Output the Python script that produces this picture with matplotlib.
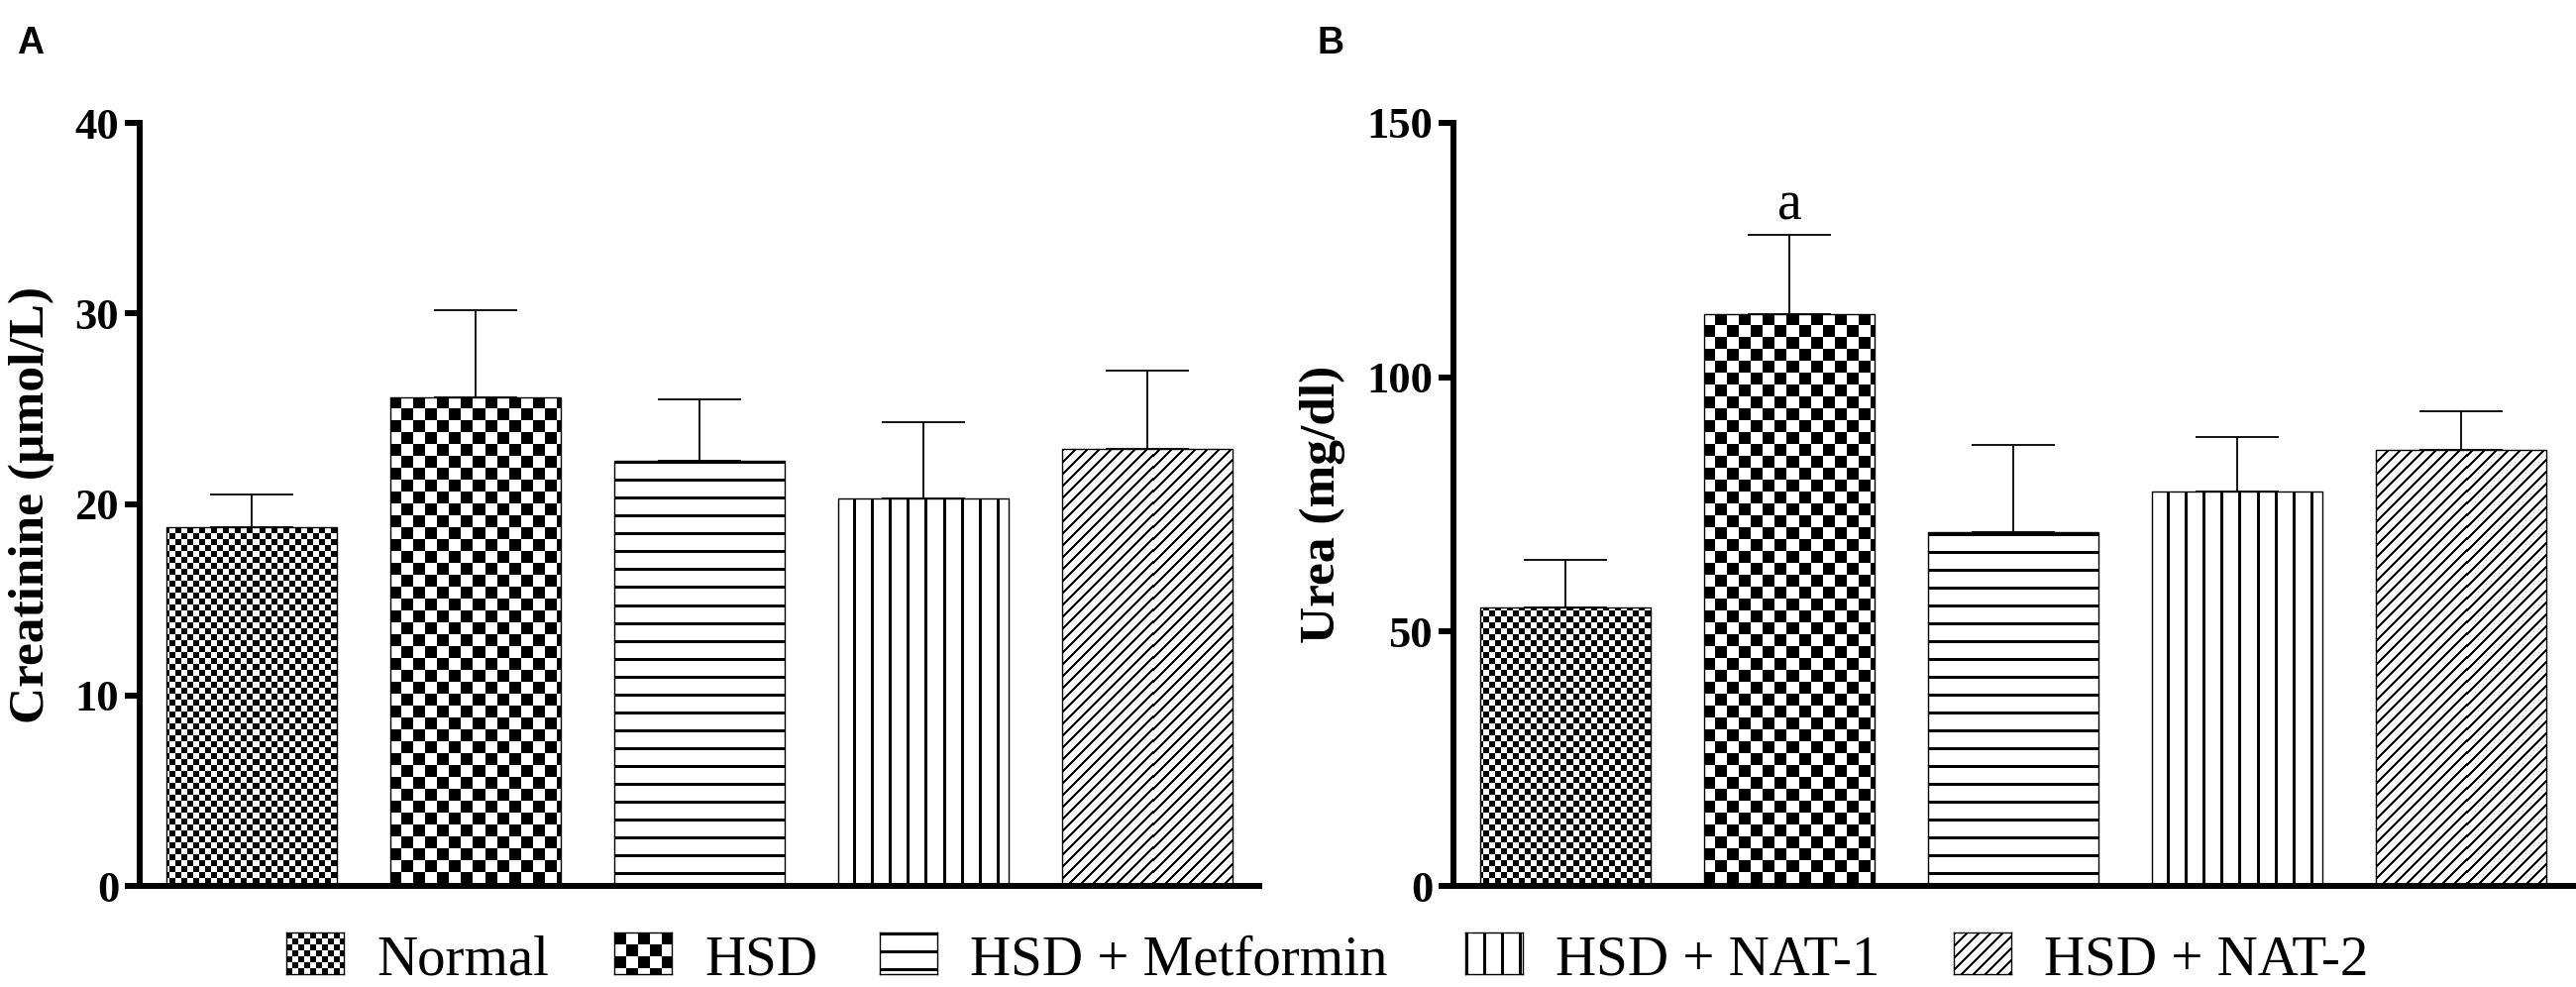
import numpy as np
import matplotlib
matplotlib.use("Agg")
import matplotlib.pyplot as plt

# DATA
groups = ["Normal", "HSD", "HSD + Metformin", "HSD + NAT-1", "HSD + NAT-2"]
creatinine_mean = [18.8, 25.6, 22.3, 20.3, 22.9]
creatinine_sem = [1.7, 4.6, 3.2, 4.0, 4.1]
urea_mean = [54.7, 112.4, 69.5, 77.5, 85.7]
urea_sem = [9.4, 15.6, 17.2, 10.7, 7.7]
urea_marks = ["", "a", "", "", ""]
creatinine_ticks = [0, 10, 20, 30, 40]
urea_ticks = [0, 50, 100, 150]

# fill pattern of each group
patterns = ["fine_check", "coarse_check", "hlines", "vlines", "diag"]

# CONFIGURATION
W, H, DPI = 2600, 996, 100
SERIF = "Liberation Serif"
SANS = "Liberation Sans"
plt.rcParams["font.family"] = SERIF


def pattern_array(kind, nrows, ncols):
    """Black/white pixel pattern (0 = black, 1 = white)."""
    i, j = np.indices((nrows, ncols))
    if kind == "fine_check":
        black = ((i // 6 + j // 6) % 2) == 0
    elif kind == "coarse_check":
        black = ((i // 12 + j // 12) % 2) == 0
    elif kind == "hlines":
        black = (i % 18) < 3
    elif kind == "vlines":
        black = (j % 18) < 3
    else:
        black = ((i + j) % 12) < 3
    return np.where(black, 0.0, 1.0)


def fill_with_pattern(ax, patch, kind):
    # image covering the whole axes at pixel resolution, clipped to the bar
    nr, nc = int(round(ax.bbox.height)), int(round(ax.bbox.width))
    x0, x1 = ax.get_xlim()
    y0, y1 = ax.get_ylim()
    im = ax.imshow(pattern_array(kind, nr, nc), cmap="gray", vmin=0, vmax=1,
                   extent=(x0, x1, y0, y1), aspect="auto",
                   interpolation="nearest", zorder=2)
    im.set_clip_path(patch)


def bar_panel(ax, means, sems, ticks, ylabel, label_x, marks=None):
    x = np.arange(len(means))
    ax.set_xlim(-0.5, len(means) - 0.5)
    ax.set_ylim(0, ticks[-1])

    ax.errorbar(x, means, yerr=[np.zeros(len(sems)), sems], fmt="none",
                ecolor="black", elinewidth=1.3, capsize=30, capthick=1.3,
                zorder=1)
    bars = ax.bar(x, means, width=0.765, facecolor="none", edgecolor="black",
                  linewidth=1.0, zorder=3)
    for b, kind in zip(bars, patterns):
        fill_with_pattern(ax, b, kind)
    ax.set_xlim(-0.5, len(means) - 0.5)
    ax.set_ylim(0, ticks[-1])

    if marks:
        for xi, m, s, mk in zip(x, means, sems, marks):
            if mk:
                ax.annotate(mk, (xi, m + s), xytext=(0, 11),
                            textcoords="offset points", ha="center",
                            va="baseline", fontsize=40, family=SERIF)

    # Styling
    for side in ("top", "right"):
        ax.spines[side].set_visible(False)
    for side in ("left", "bottom"):
        ax.spines[side].set_linewidth(4.3)
    ax.set_yticks(ticks)
    ax.tick_params(axis="y", length=11, width=4.3, pad=4, labelsize=32)
    ax.tick_params(axis="x", bottom=False, labelbottom=False)
    for t in ax.get_yticklabels():
        t.set_fontweight("bold")
    ax.set_ylabel(ylabel, fontsize=37, fontweight="bold")
    ax.yaxis.set_label_coords(label_x, 0.5)


fig = plt.figure(figsize=(W / DPI, H / DPI), dpi=DPI)
axA = fig.add_axes([141 / W, 102 / H, 1130 / W, 770 / H])
axB = fig.add_axes([1467 / W, 102 / H, 1130 / W, 770 / H])

bar_panel(axA, creatinine_mean, creatinine_sem, creatinine_ticks,
          "Creatinine (µmol/L)", -0.076)
bar_panel(axB, urea_mean, urea_sem, urea_ticks,
          "Urea (mg/dl)", -0.0965, marks=urea_marks)

# panel letters
fig.text(17 / W, 1 - 26 / H, "A", family=SANS, fontweight="bold",
         fontsize=27, va="top", ha="left")
fig.text(1329 / W, 1 - 26 / H, "B", family=SANS, fontweight="bold",
         fontsize=27, va="top", ha="left")

# legend row at the bottom: pattern swatch + label
swatch_left = [289, 620, 888, 1479, 1972]
base = 13
for left, name, kind in zip(swatch_left, groups, patterns):
    sw = fig.add_axes([left / W, base / H, 58 / W, 42 / H])
    sw.imshow(pattern_array(kind, 42, 58), cmap="gray", vmin=0, vmax=1,
              aspect="auto", interpolation="nearest")
    sw.set_xticks([])
    sw.set_yticks([])
    for s in sw.spines.values():
        s.set_linewidth(1.0)
    fig.text((left + 91) / W, base / H, name, fontsize=41, family=SERIF,
             ha="left", va="baseline")

fig.savefig("out.png", dpi=DPI)
